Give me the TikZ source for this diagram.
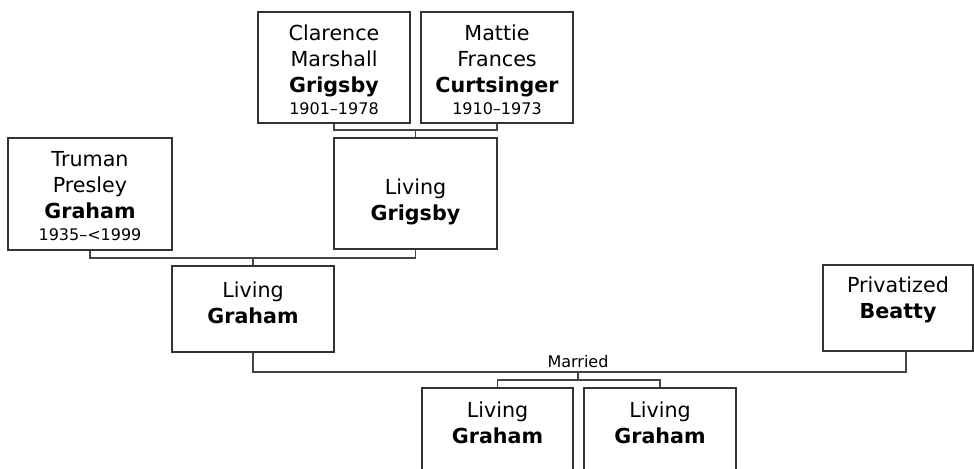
\documentclass[tikz,border=0pt]{standalone}
\usepackage{fontspec}
\setmainfont{DejaVu Sans}
\usetikzlibrary{calc}
\definecolor{boxc}{RGB}{51,51,51}
\definecolor{linec}{RGB}{68,68,68}
\newcommand{\mainf}{\fontsize{15.5}{19.5}\selectfont}
\newcommand{\datef}{\fontsize{12}{15}\selectfont}
\tikzset{
  box/.style={draw=boxc, line width=1pt, rectangle, inner sep=0pt},
  txt/.style={align=center, font=\mainf, anchor=north, inner sep=0pt, text=black},
  conn/.style={draw=linec, line width=1pt},
  smalltxt/.style={font=\datef, inner sep=0pt, text=black}
}
\begin{document}
\begin{tikzpicture}[x=0.75pt,y=-0.75pt]
\useasboundingbox (0,0) rectangle (974,468);
\clip (0,0) rectangle (974,468);
% boxes
\node[box, minimum width=114pt, minimum height=83.25pt] (cl) at (334,67.5) {};
\node[box, minimum width=114pt, minimum height=83.25pt] (ma) at (497,67.5) {};
\node[box, minimum width=123pt, minimum height=84pt] (tr) at (90,194) {};
\node[box, minimum width=122.25pt, minimum height=83.25pt] (lg) at (415.5,193.5) {};
\node[box, minimum width=121.5pt, minimum height=64.5pt] (lgr) at (253,309) {};
\node[box, minimum width=112.5pt, minimum height=64.5pt] (be) at (898,308) {};
\node[box, minimum width=113.25pt, minimum height=64.5pt] (c1) at (497.5,431) {};
\node[box, minimum width=114pt, minimum height=64.5pt] (c2) at (660,431) {};
% texts
\node[txt] (clt) at ([yshift=-10pt]cl.north) {Clarence\\Marshall\\\textbf{Grigsby}\\[-3pt]{\datef 1901–1978}};
\node[txt] (mat) at ([yshift=-10pt]ma.north) {Mattie\\Frances\\\textbf{Curtsinger}\\[-3pt]{\datef 1910–1973}};
\node[txt] (trt) at ([yshift=-10pt]tr.north) {Truman\\Presley\\\textbf{Graham}\\[-3pt]{\datef 1935–<1999}};
\node[txt] (lgt) at ([yshift=-31pt]lg.north) {Living\\\textbf{Grigsby}};
\node[txt] (lgrt) at ([yshift=-12pt]lgr.north) {Living\\\textbf{Graham}};
\node[txt] (bet) at ([yshift=-9.5pt]be.north) {Privatized\\\textbf{Beatty}};
\node[txt] (c1t) at ([yshift=-11pt]c1.north) {Living\\\textbf{Graham}};
\node[txt] (c2t) at ([yshift=-11pt]c2.north) {Living\\\textbf{Graham}};
% connectors
\coordinate (j1) at (415.5,130);
\draw[conn] (cl.south) |- (j1) -| (ma.south);
\draw[conn] (j1) -- (lg.north);
\coordinate (j2) at (253,258);
\draw[conn] (tr.south) |- (j2) -| (lg.south);
\draw[conn] (j2) -- (lgr.north);
\coordinate (bes) at (906,351);
\coordinate (j3) at (578,372);
\draw[conn] (lgr.south) |- (j3) -| (bes);
\node[smalltxt, anchor=base] (mar) at (578,367) {Married};
\coordinate (j4) at (578,380);
\draw[conn] (j3) -- (j4);
\draw[conn] (c1.north) |- (j4) -| (c2.north);
\end{tikzpicture}
\end{document}
